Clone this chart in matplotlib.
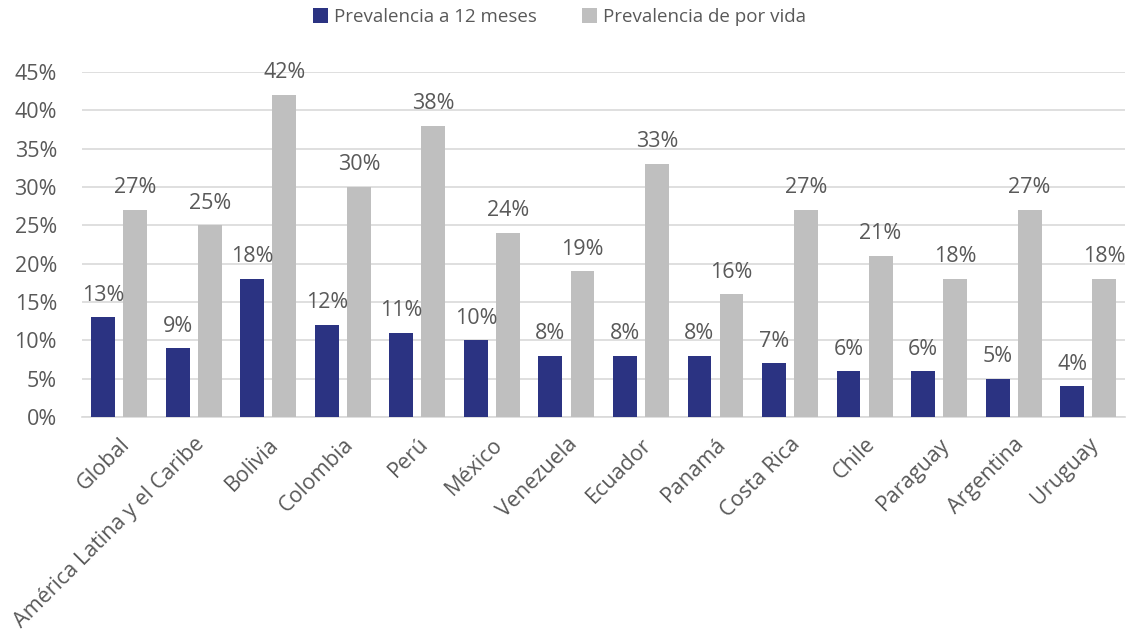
import matplotlib
matplotlib.use("Agg")
import matplotlib.pyplot as plt
import numpy as np
from matplotlib.ticker import FuncFormatter

categories = ["Global", "América Latina y el Caribe", "Bolivia", "Colombia", "Perú",
              "México", "Venezuela", "Ecuador", "Panamá", "Costa Rica", "Chile",
              "Paraguay", "Argentina", "Uruguay"]
prev_12m = [13, 9, 18, 12, 11, 10, 8, 8, 8, 7, 6, 6, 5, 4]
prev_vida = [27, 25, 42, 30, 38, 24, 19, 33, 16, 27, 21, 18, 27, 18]

plt.rcParams['font.family'] = ['Open Sans', 'DejaVu Sans']
txt = '#595959'
fs = 15.5

fig = plt.figure(figsize=(11.28, 6.3), dpi=100)
ax = fig.add_axes([0.0727, 0.338, 0.925, 0.548])

x = np.arange(len(categories))
w = 0.32
off = 0.215
b1 = ax.bar(x - off, prev_12m, w, color='#2B3382', label='Prevalencia a 12 meses', zorder=3)
b2 = ax.bar(x + off, prev_vida, w, color='#BFBFBF', label='Prevalencia de por vida', zorder=3)

for rect, v in zip(b1, prev_12m):
    ax.text(rect.get_x() + rect.get_width() / 2, v + 1.5, f"{v}%", ha='center', va='bottom',
            fontsize=fs, color=txt)
for rect, v in zip(b2, prev_vida):
    ax.text(rect.get_x() + rect.get_width() / 2, v + 1.5, f"{v}%", ha='center', va='bottom',
            fontsize=fs, color=txt)

ax.set_xlim(-0.5, len(categories) - 0.5)
ax.set_ylim(0, 45)
ax.set_yticks(np.arange(0, 46, 5))
ax.yaxis.set_major_formatter(FuncFormatter(lambda v, p: f"{int(v)}%"))
ax.grid(axis='y', color='#D9D9D9', linewidth=1.2, zorder=0)
for s in ['top', 'right', 'left']:
    ax.spines[s].set_visible(False)
ax.spines['bottom'].set_color('#D9D9D9')
ax.spines['bottom'].set_linewidth(1.2)
ax.tick_params(axis='both', length=0, labelsize=fs, colors=txt)
ax.tick_params(axis='y', pad=18)
ax.set_xticks(x)
ax.set_xticklabels(categories, rotation=45, ha='right', rotation_mode='anchor')
ax.tick_params(axis='x', pad=12)

fig.legend(loc='upper center', bbox_to_anchor=(0.496, 1.014), ncol=2, frameon=False,
           fontsize=13.5, labelcolor=txt, handlelength=0.8, handleheight=0.8,
           columnspacing=2.4, handletextpad=0.3)

fig.savefig("out.png", dpi=100)
